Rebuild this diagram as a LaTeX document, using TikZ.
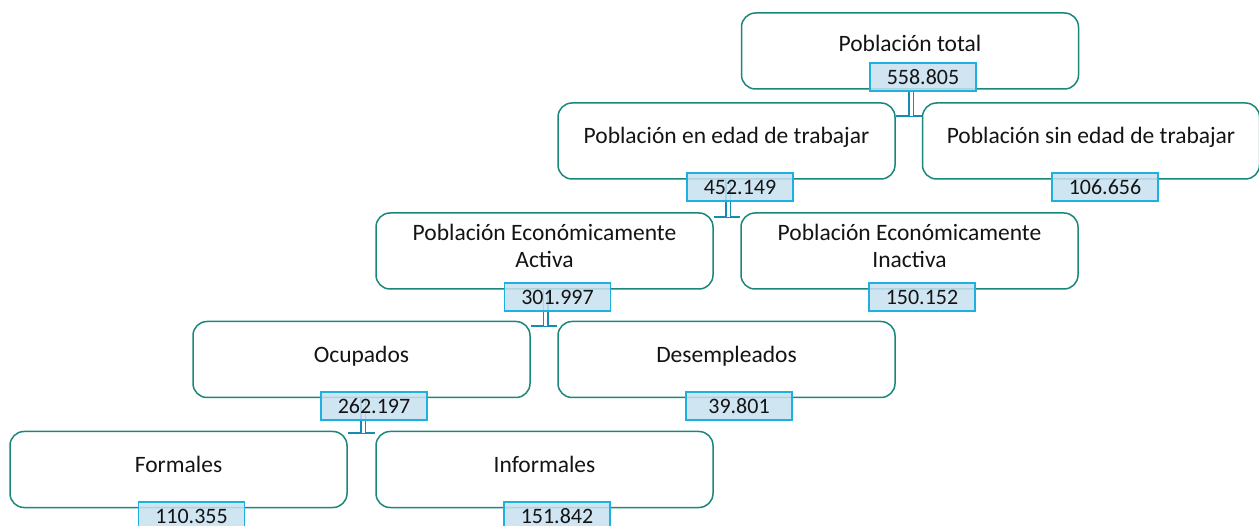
\documentclass[tikz,border=0pt]{standalone}
\usepackage{fontspec}
\setmainfont{Carlito}
\definecolor{boxline}{RGB}{27,135,122}
\definecolor{lblline}{RGB}{30,176,222}
\definecolor{lblfill}{RGB}{200,224,240}
\definecolor{conn}{RGB}{22,140,180}
\definecolor{txt}{RGB}{20,20,20}
\begin{document}
\begin{tikzpicture}[x=1pt,y=-1pt,
  box/.style={draw=boxline, line width=1.5pt, rounded corners=14pt, minimum width=337pt, minimum height=76pt, inner sep=0pt, align=center, text=txt, font=\fontsize{23.5}{27}\selectfont, fill=white, text depth=11pt},
  lbl/.style={draw=lblline, line width=1.6pt, fill=lblfill, fill opacity=0.85, text opacity=1, minimum width=106pt, minimum height=28pt, inner sep=0pt, text=txt, font=\fontsize{22}{24}\selectfont},
  hline/.style={draw=conn, line width=1.6pt},
  dline/.style={draw=conn, double=white, double distance=3pt, line width=1.5pt}]
\useasboundingbox (0,0) rectangle (1259,526);
% boxes
\node[box, text depth=16pt] (pt) at (910,51) {Población total};
\node[box] (pet) at (726.5,141) {Población en edad de trabajar};
\node[box] (pset) at (1091,141) {Población sin edad de trabajar};
\node[box] (pea) at (544.5,251) {Población Económicamente\\Activa};
\node[box] (pei) at (909.5,251) {Población Económicamente\\Inactiva};
\node[box] (ocu) at (361.5,359.5) {Ocupados};
\node[box] (des) at (726.5,359.5) {Desempleados};
\node[box] (for) at (178.5,469.5) {Formales};
\node[box] (inf) at (544.5,469.5) {Informales};
% junctions
\coordinate (j1) at (911,116);
\coordinate (j2) at (728,217);
\coordinate (j3) at (545.5,326);
\coordinate (j4) at (363,433);
% connectors
\draw[hline] (pet.east |- j1) -- (pset.west |- j1);
\draw[dline] (j1 |- pt.south) -- (j1);
\draw[hline] (pea.east |- j2) -- (pei.west |- j2);
\draw[dline] (j2 |- pet.south) -- (j2);
\draw[hline] (ocu.east |- j3) -- (des.west |- j3);
\draw[dline] (j3 |- pea.south) -- (j3);
\draw[hline] (for.east |- j4) -- (inf.west |- j4);
\draw[dline] (j4 |- ocu.south) -- (j4);
% value labels
\node[lbl] (vpt) at (923,77) {558.805};
\node[lbl] (vpet) at (740,187) {452.149};
\node[lbl] (vpset) at (1105,187) {106.656};
\node[lbl] (vpea) at (557.5,297) {301.997};
\node[lbl] (vpei) at (922,297) {150.152};
\node[lbl] (vocu) at (374,406) {262.197};
\node[lbl] (vdes) at (739,406) {39.801};
\node[lbl] (vfor) at (191.5,516) {110.355};
\node[lbl] (vinf) at (557,516) {151.842};
\end{tikzpicture}
\end{document}
